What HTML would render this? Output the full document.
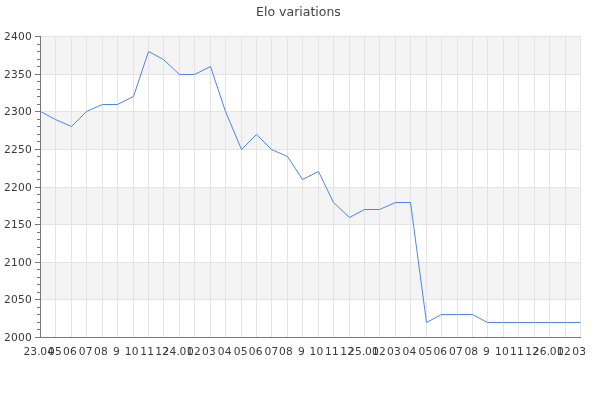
<!DOCTYPE html>
<html><head><meta charset="utf-8"><title>Elo variations</title>
<style>html,body{margin:0;padding:0;background:#fff;overflow:hidden}</style></head>
<body>
<svg width="600" height="400" viewBox="0 0 600 400" style="display:block">
<rect width="600" height="400" fill="#ffffff"/>
<rect x="40.5" y="36.00" width="540.0" height="39.00" fill="#f4f4f4"/>
<rect x="40.5" y="111.00" width="540.0" height="39.00" fill="#f4f4f4"/>
<rect x="40.5" y="187.00" width="540.0" height="38.00" fill="#f4f4f4"/>
<rect x="40.5" y="262.00" width="540.0" height="38.00" fill="#f4f4f4"/>
<path d="M40.5 36.5H580.5M40.5 74.5H580.5M40.5 111.5H580.5M40.5 149.5H580.5M40.5 187.5H580.5M40.5 224.5H580.5M40.5 262.5H580.5M40.5 299.5H580.5M55.5 36.5V337.5M71.5 36.5V337.5M86.5 36.5V337.5M102.5 36.5V337.5M117.5 36.5V337.5M133.5 36.5V337.5M148.5 36.5V337.5M163.5 36.5V337.5M179.5 36.5V337.5M194.5 36.5V337.5M210.5 36.5V337.5M225.5 36.5V337.5M241.5 36.5V337.5M256.5 36.5V337.5M271.5 36.5V337.5M287.5 36.5V337.5M302.5 36.5V337.5M318.5 36.5V337.5M333.5 36.5V337.5M349.5 36.5V337.5M364.5 36.5V337.5M379.5 36.5V337.5M395.5 36.5V337.5M410.5 36.5V337.5M426.5 36.5V337.5M441.5 36.5V337.5M457.5 36.5V337.5M472.5 36.5V337.5M487.5 36.5V337.5M503.5 36.5V337.5M518.5 36.5V337.5M534.5 36.5V337.5M549.5 36.5V337.5M565.5 36.5V337.5M580.5 36.5V337.5" stroke="#e4e4e4" stroke-width="1" fill="none" shape-rendering="crispEdges"/>
<path d="M35 337.5H41M37 329.5H41M37 322.5H41M37 314.5H41M37 307.5H41M35 299.5H41M37 292.5H41M37 284.5H41M37 277.5H41M37 269.5H41M35 262.5H41M37 254.5H41M37 247.5H41M37 239.5H41M37 232.5H41M35 224.5H41M37 217.5H41M37 209.5H41M37 202.5H41M37 194.5H41M35 187.5H41M37 179.5H41M37 171.5H41M37 164.5H41M37 156.5H41M35 149.5H41M37 141.5H41M37 134.5H41M37 126.5H41M37 119.5H41M35 111.5H41M37 104.5H41M37 96.5H41M37 89.5H41M37 81.5H41M35 74.5H41M37 66.5H41M37 59.5H41M37 51.5H41M37 44.5H41M35 36.5H41M40.5 36.0V338.0M40.0 337.5H581.0" stroke="#787878" stroke-width="1" fill="none" shape-rendering="crispEdges"/>
<polyline points="40.5,111.5 55.5,119.5 71.5,126.5 86.5,111.5 102.5,104.5 117.5,104.5 133.5,96.5 148.5,51.5 163.5,59.5 179.5,74.5 194.5,74.5 210.5,66.5 225.5,111.5 241.5,149.5 256.5,134.5 271.5,149.5 287.5,156.5 302.5,179.5 318.5,171.5 333.5,202.5 349.5,217.5 364.5,209.5 379.5,209.5 395.5,202.5 410.5,202.5 426.5,322.5 441.5,314.5 457.5,314.5 472.5,314.5 487.5,322.5 503.5,322.5 518.5,322.5 534.5,322.5 549.5,322.5 565.5,322.5 580.5,322.5" fill="none" stroke="#4f85e8" stroke-width="1"/>
<g font-family="'DejaVu Sans', 'Liberation Sans', sans-serif" fill="#3a3a3a">
<text x="298.5" y="16" font-size="12.5" text-anchor="middle" fill="#444444">Elo variations</text>
<text x="4.1" y="341" font-size="10.67" letter-spacing="0.2">2000</text>
<text x="4.1" y="303" font-size="10.67" letter-spacing="0.2">2050</text>
<text x="4.1" y="266" font-size="10.67" letter-spacing="0.2">2100</text>
<text x="4.1" y="228" font-size="10.67" letter-spacing="0.2">2150</text>
<text x="4.1" y="191" font-size="10.67" letter-spacing="0.2">2200</text>
<text x="4.1" y="153" font-size="10.67" letter-spacing="0.2">2250</text>
<text x="4.1" y="115" font-size="10.67" letter-spacing="0.2">2300</text>
<text x="4.1" y="78" font-size="10.67" letter-spacing="0.2">2350</text>
<text x="4.1" y="40" font-size="10.67" letter-spacing="0.2">2400</text>
<text x="23.4" y="355" font-size="10.67" letter-spacing="0.2">23.<tspan dx="-0.6">04</tspan></text>
<text x="48.1" y="355" font-size="10.67" letter-spacing="0.2">05</text>
<text x="63.1" y="355" font-size="10.67" letter-spacing="0.2">06</text>
<text x="78.7" y="355" font-size="10.67" letter-spacing="0.2">07</text>
<text x="94.1" y="355" font-size="10.67" letter-spacing="0.2">08</text>
<text x="113.1" y="355" font-size="10.67" letter-spacing="0.2">9</text>
<text x="124.7" y="355" font-size="10.67" letter-spacing="0.2">10</text>
<text x="140.3" y="355" font-size="10.67" letter-spacing="0.2">11</text>
<text x="155.3" y="355" font-size="10.67" letter-spacing="0.2">12</text>
<text x="162.6" y="355" font-size="10.67" letter-spacing="0.2">24.<tspan dx="-0.6">01</tspan></text>
<text x="187.1" y="355" font-size="10.67" letter-spacing="0.2">02</text>
<text x="202.1" y="355" font-size="10.67" letter-spacing="0.2">03</text>
<text x="217.7" y="355" font-size="10.67" letter-spacing="0.2">04</text>
<text x="233.8" y="355" font-size="10.67" letter-spacing="0.2">05</text>
<text x="248.7" y="355" font-size="10.67" letter-spacing="0.2">06</text>
<text x="264.5" y="355" font-size="10.67" letter-spacing="0.2">07</text>
<text x="279.1" y="355" font-size="10.67" letter-spacing="0.2">08</text>
<text x="298.1" y="355" font-size="10.67" letter-spacing="0.2">9</text>
<text x="309.6" y="355" font-size="10.67" letter-spacing="0.2">10</text>
<text x="325.1" y="355" font-size="10.67" letter-spacing="0.2">11</text>
<text x="340.3" y="355" font-size="10.67" letter-spacing="0.2">12</text>
<text x="348.1" y="355" font-size="10.67" letter-spacing="0.2">25.<tspan dx="-0.6">01</tspan></text>
<text x="372.1" y="355" font-size="10.67" letter-spacing="0.2">02</text>
<text x="387.1" y="355" font-size="10.67" letter-spacing="0.2">03</text>
<text x="402.5" y="355" font-size="10.67" letter-spacing="0.2">04</text>
<text x="418.6" y="355" font-size="10.67" letter-spacing="0.2">05</text>
<text x="433.4" y="355" font-size="10.67" letter-spacing="0.2">06</text>
<text x="449.1" y="355" font-size="10.67" letter-spacing="0.2">07</text>
<text x="464.4" y="355" font-size="10.67" letter-spacing="0.2">08</text>
<text x="483.1" y="355" font-size="10.67" letter-spacing="0.2">9</text>
<text x="495.1" y="355" font-size="10.67" letter-spacing="0.2">10</text>
<text x="510.1" y="355" font-size="10.67" letter-spacing="0.2">11</text>
<text x="525.2" y="355" font-size="10.67" letter-spacing="0.2">12</text>
<text x="532.8" y="355" font-size="10.67" letter-spacing="0.2">26.<tspan dx="-0.6">01</tspan></text>
<text x="557.1" y="355" font-size="10.67" letter-spacing="0.2">02</text>
<text x="572.3" y="355" font-size="10.67" letter-spacing="0.2">03</text>
</g>
</svg>
</body></html>
